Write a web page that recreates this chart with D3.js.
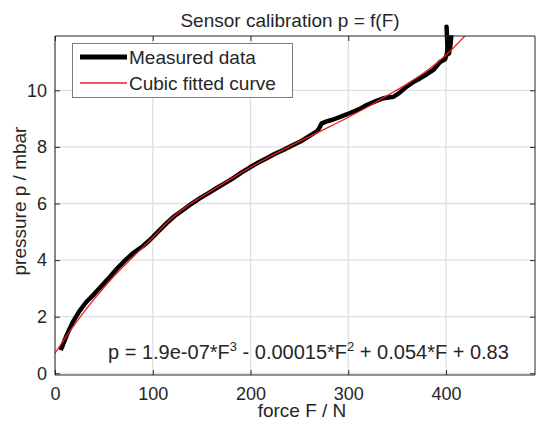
<!DOCTYPE html>
<html><head><meta charset="utf-8">
<script src="https://cdn.jsdelivr.net/npm/d3@7"></script>
<style>
body{margin:0;background:#fff;}
text{font-family:"Liberation Sans",Arial,sans-serif;fill:#262626;}
</style></head>
<body><svg id="c" width="537" height="421"></svg>
<script>
// ---- data ----
const measuredF = [5.8,8,12,18,25,32,40,48,56,64,72,80,90,97,107,114,122,131,140,148,157,165,174,182,191,199.5,208,216.6,225,233.6,242,250.6,260,267.7,270,272.8,278,284.7,293,301.8,312,318.9,327,335.9,346,352,359.7,366,373.3,380,387,393.9,399,401,401.5,400.5,401,401.6,403,404.5,405.5];
const measuredP = [0.82,1.0,1.35,1.8,2.2,2.52,2.8,3.1,3.4,3.72,4.0,4.25,4.5,4.71,5.06,5.3,5.55,5.77,6.0,6.18,6.37,6.54,6.72,6.89,7.1,7.28,7.45,7.6,7.76,7.89,8.04,8.18,8.38,8.55,8.65,8.83,8.9,8.97,9.08,9.2,9.35,9.48,9.6,9.72,9.77,9.9,10.13,10.28,10.42,10.56,10.72,11.0,11.1,11.3,11.6,12.25,11.9,11.4,11.3,11.6,11.95];
const fitF = [0,20,40,60,80,100,120,140,160,180,200,220,240,260,280,300,320,340,360,380,400,420];
const fitP = [0.71,1.72,2.62,3.42,4.12,4.8,5.5,6.02,6.45,6.87,7.28,7.66,8.02,8.36,8.7,9.05,9.42,9.82,10.22,10.68,11.25,11.95];
const xTicks = [0,100,200,300,400];
const yTicks = [0,2,4,6,8,10];
const xDomain = [0,491];
const yDomain = [-0.06,11.92];
const titleText = "Sensor calibration p = f(F)";
const xLabel = "force F / N";
const yLabel = "pressure p / mbar";
const legendLabels = ["Measured data","Cubic fitted curve"];

// ---- layout ----
const L=55,R=535,T=36,B=375;
const svg=d3.select("#c");
const x=d3.scaleLinear().domain(xDomain).range([L,R]);
const y=d3.scaleLinear().domain(yDomain).range([B,T]);
const ink="#262626";

// grid
const g=svg.append("g");
g.selectAll(".gx").data(xTicks).join("line")
 .attr("x1",d=>x(d)).attr("x2",d=>x(d)).attr("y1",T).attr("y2",B)
 .attr("stroke","#dfdfdf").attr("stroke-width",1.3);
g.selectAll(".gy").data(yTicks).join("line")
 .attr("y1",d=>y(d)).attr("y2",d=>y(d)).attr("x1",L).attr("x2",R)
 .attr("stroke","#dfdfdf").attr("stroke-width",1.3);

// clip
svg.append("clipPath").attr("id","clip").append("rect")
 .attr("x",L).attr("y",T).attr("width",R-L).attr("height",B-T);

const line=d3.line().x(d=>x(d[0])).y(d=>y(d[1]));
const meas=measuredF.map((f,i)=>[f,measuredP[i]]);
const fit=fitF.map((f,i)=>[f,fitP[i]]);
const lineC=d3.line().curve(d3.curveCatmullRom).x(d=>x(d[0])).y(d=>y(d[1]));

svg.append("path").attr("d",line(meas)).attr("fill","none")
 .attr("stroke","#000").attr("stroke-width",4.5).attr("stroke-linejoin","round");
svg.append("path").attr("d",lineC(fit)).attr("fill","none").attr("clip-path","url(#clip)")
 .attr("stroke","#ee1c24").attr("stroke-width",1.3);

// axes
const fs=19, tfs=18;
const ax=svg.append("g").attr("transform",`translate(0,${B})`)
 .call(d3.axisBottom(x).tickValues(xTicks).tickSize(-5).tickPadding(12));
const axT=svg.append("g").attr("transform",`translate(0,${T})`)
 .call(d3.axisTop(x).tickValues(xTicks).tickSize(-5).tickFormat(""));
const ay=svg.append("g").attr("transform",`translate(${L},0)`)
 .call(d3.axisLeft(y).tickValues(yTicks).tickSize(-5).tickPadding(8));
const ayR=svg.append("g").attr("transform",`translate(${R},0)`)
 .call(d3.axisRight(y).tickValues(yTicks).tickSize(-5).tickFormat(""));
[ax,axT,ay,ayR].forEach(a=>{
 a.select(".domain").attr("stroke",ink).attr("stroke-width",1);
 a.selectAll(".tick line").attr("stroke",ink);
 a.selectAll("text").attr("font-size",tfs).attr("font-family","Liberation Sans, Arial, sans-serif").attr("fill",ink);
});
ay.selectAll(".domain").attr("d",`M0,${B}V${T}`);
ayR.selectAll(".domain").attr("d",`M0,${B}V${T}`);
ax.selectAll(".domain").attr("d",`M${L},0H${R}`);
axT.selectAll(".domain").attr("d",`M${L},0H${R}`);

// title & labels
svg.append("text").attr("x",290).attr("y",27).attr("text-anchor","middle").attr("font-size",19).text(titleText);
svg.append("text").attr("x",302).attr("y",417).attr("text-anchor","middle").attr("font-size",fs).text(xLabel);
svg.append("text").attr("transform",`translate(26,201) rotate(-90)`).attr("text-anchor","middle").attr("font-size",fs).text(yLabel);

// equation
const eq=svg.append("text").attr("x",108).attr("y",359).attr("font-size",20);
eq.append("tspan").text("p = 1.9e-07*F");
eq.append("tspan").attr("dy",-8).attr("font-size",13).text("3");
eq.append("tspan").attr("dy",8).text(" - 0.00015*F");
eq.append("tspan").attr("dy",-8).attr("font-size",13).text("2");
eq.append("tspan").attr("dy",8).text(" + 0.054*F + 0.83");

// legend
const lg=svg.append("g");
lg.append("rect").attr("x",72.5).attr("y",43.5).attr("width",220).attr("height",54)
 .attr("fill","#fff").attr("stroke","#7a7a7a").attr("stroke-width",1);
const cols=["#000","#ee1c24"], widths=[5,1.5];
legendLabels.forEach((t,i)=>{
 const yy=57+i*26;
 lg.append("line").attr("x1",80).attr("x2",127).attr("y1",yy).attr("y2",yy)
  .attr("stroke",cols[i]).attr("stroke-width",widths[i]);
 lg.append("text").attr("x",129).attr("y",yy).attr("dy","0.35em").attr("font-size",fs).text(t);
});
</script></body></html>
